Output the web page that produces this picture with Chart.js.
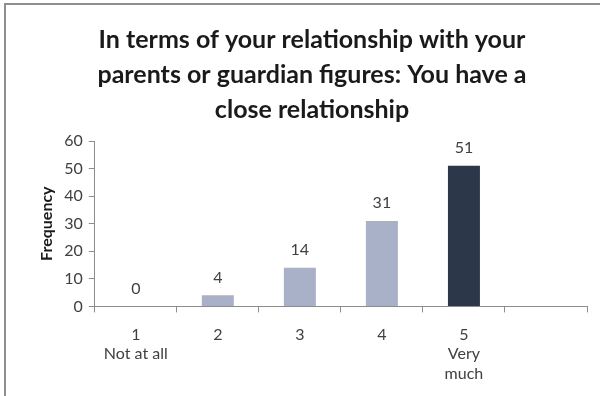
<!DOCTYPE html>
<html>
<head>
<meta charset="utf-8">
<script src="https://cdn.jsdelivr.net/npm/chart.js@4/dist/chart.umd.min.js"></script>
<style>
  html, body { margin: 0; padding: 0; background: #fff; }
  #wrap { width: 600px; height: 396px; position: relative; }
</style>
</head>
<body>
<div id="wrap"><canvas id="chart" width="600" height="396"></canvas></div>
<script>
// Responses on a 1-5 scale, with an empty slot after the last category
const categories = [['1', 'Not at all'], '2', '3', '4', ['5', 'Very', 'much'], ''];
const frequency = [0, 4, 14, 31, 51, null];
const barColors = ['#a8b1c8', '#a8b1c8', '#a8b1c8', '#a8b1c8', '#2d374a', '#a8b1c8'];
const titleLines = [
  'In terms of your relationship with your',
  'parents or guardian figures: You have a',
  'close relationship'
];
const yTicks = { min: 0, max: 60, step: 10 };

const FONT = 'Lato, Carlito, Calibri, sans-serif';

// frame along the top and left edge of the chart
const framePlugin = {
  id: 'frame',
  beforeDraw(chart) {
    const ctx = chart.ctx;
    ctx.save();
    ctx.strokeStyle = '#8f8f8f';
    ctx.lineWidth = 2;
    ctx.beginPath();
    ctx.moveTo(5, chart.height);
    ctx.lineTo(5, 4);
    ctx.lineTo(chart.width, 4);
    ctx.stroke();
    ctx.restore();
  }
};

// value printed above each bar
const valueLabels = {
  id: 'valueLabels',
  afterDatasetsDraw(chart) {
    const ctx = chart.ctx;
    const meta = chart.getDatasetMeta(0);
    ctx.save();
    ctx.font = '16px ' + FONT;
    ctx.fillStyle = '#404040';
    ctx.textAlign = 'center';
    ctx.textBaseline = 'middle';
    meta.data.forEach((bar, i) => {
      const v = frequency[i];
      if (v === null) return;
      ctx.fillText(String(v), bar.x, bar.y - 18);
    });
    ctx.restore();
  }
};

new Chart(document.getElementById('chart').getContext('2d'), {
  type: 'bar',
  data: {
    labels: categories,
    datasets: [{
      data: frequency,
      backgroundColor: barColors,
      borderWidth: 0,
      barPercentage: 0.39,
      categoryPercentage: 1
    }]
  },
  options: {
    responsive: false,
    animation: false,
    layout: { padding: { left: 37, right: 13, top: 22, bottom: 0 } },
    plugins: {
      legend: { display: false },
      tooltip: { enabled: false },
      title: {
        display: true,
        text: titleLines,
        color: '#1a1a1a',
        font: { family: FONT, size: 25, weight: 'bold', lineHeight: 1.4 },
        padding: { top: 0, bottom: 14 }
      }
    },
    scales: {
      x: {
        offset: true,
        grid: {
          offset: true,
          drawOnChartArea: false,
          drawTicks: true,
          tickLength: 6,
          color: '#8c8c8c'
        },
        border: { color: '#8c8c8c', width: 1 },
        ticks: {
          color: '#404040',
          font: { family: FONT, size: 16, lineHeight: 1.2 },
          maxRotation: 0,
          padding: 13
        }
      },
      y: {
        min: yTicks.min,
        max: yTicks.max,
        grid: {
          drawOnChartArea: false,
          drawTicks: true,
          tickLength: 6,
          color: '#8c8c8c'
        },
        border: { color: '#8c8c8c', width: 1 },
        ticks: {
          stepSize: yTicks.step,
          color: '#404040',
          font: { family: FONT, size: 16 },
          padding: 6
        },
        title: {
          display: true,
          text: 'Frequency',
          color: '#1a1a1a',
          font: { family: FONT, size: 16, weight: 'bold' },
          padding: { top: 0, bottom: 2 }
        }
      }
    }
  },
  plugins: [framePlugin, valueLabels]
});
</script>
</body>
</html>
